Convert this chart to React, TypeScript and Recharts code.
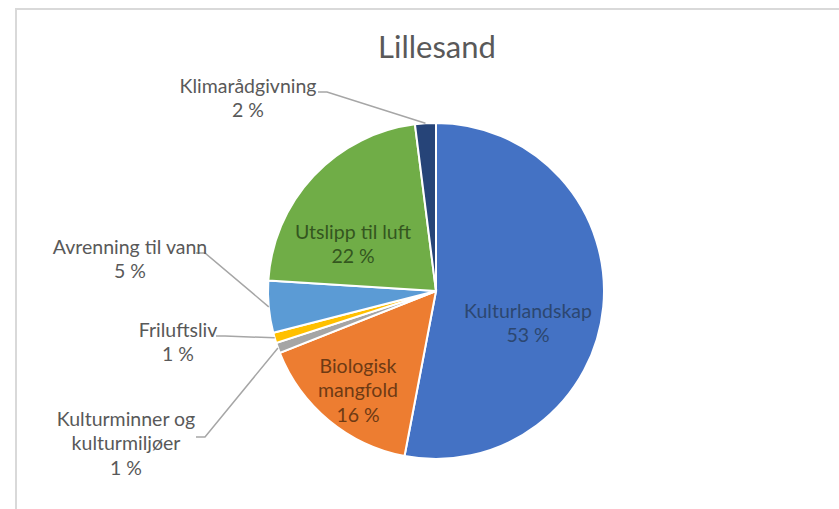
import React from 'react';
import { PieChart, Pie, Cell } from 'recharts';

// andel av tiltak per tema, Lillesand
const categories = [
  'Kulturlandskap',
  'Biologisk mangfold',
  'Kulturminner og kulturmiljøer',
  'Friluftsliv',
  'Avrenning til vann',
  'Utslipp til luft',
  'Klimarådgivning',
];
const shares = [53, 16, 1, 1, 5, 22, 2];
const percentLabels = ['53 %', '16 %', '1 %', '1 %', '5 %', '22 %', '2 %'];

const COLORS = ['#4472C4', '#ED7D31', '#A5A5A5', '#FFC000', '#5B9BD5', '#70AD47', '#264478'];

// how each label is set out: text lines, anchor, and (for outside labels) where the leader line ends
const LABEL_LAYOUT: Record<string, any> = {
  Kulturlandskap: { lines: ['Kulturlandskap'], x: 528, y: 310, fill: '#2c4770' },
  'Biologisk mangfold': { lines: ['Biologisk', 'mangfold'], x: 358, y: 365, fill: '#6e3a14' },
  'Kulturminner og kulturmiljøer': {
    lines: ['Kulturminner og', 'kulturmiljøer'], x: 126, y: 418, fill: '#595959', lineFrom: [196, 437],
  },
  Friluftsliv: { lines: ['Friluftsliv'], x: 178, y: 329, fill: '#595959', lineFrom: [216, 336] },
  'Avrenning til vann': { lines: ['Avrenning til vann'], x: 130, y: 246, fill: '#595959', lineFrom: [196, 253] },
  'Utslipp til luft': { lines: ['Utslipp til luft'], x: 353, y: 231, fill: '#34561f' },
  Klimarådgivning: { lines: ['Klimarådgivning'], x: 248, y: 85, fill: '#595959', lineFrom: [318, 92] },
};

const data = categories.map((name, i) => ({ name, value: shares[i], pct: percentLabels[i] }));

const RADIAN = Math.PI / 180;
const LINE_H = 24.5;

const renderLabel = (props: any) => {
  const { cx, cy, midAngle, outerRadius, index } = props;
  const item = data[index];
  const lay = LABEL_LAYOUT[item.name];
  const rows = [...lay.lines, item.pct];
  let leader = null;
  if (lay.lineFrom) {
    const ex = cx + outerRadius * Math.cos(-midAngle * RADIAN);
    const ey = cy + outerRadius * Math.sin(-midAngle * RADIAN);
    const [lx, ly] = lay.lineFrom;
    leader = (
      <polyline
        points={`${lx},${ly} ${lx + 9},${ly} ${ex},${ey}`}
        fill="none"
        stroke="#a6a6a6"
        strokeWidth={1.5}
      />
    );
  }
  return (
    <g key={`lbl-${index}`}>
      {leader}
      {rows.map((r: string, k: number) => (
        <text
          key={k}
          x={lay.x}
          y={lay.y + k * LINE_H}
          textAnchor="middle"
          dominantBaseline="central"
          fill={lay.fill}
          fontSize={19.5}
          fontFamily="Lato, 'Noto Sans', sans-serif"
        >
          {r}
        </text>
      ))}
    </g>
  );
};

export default function App() {
  return (
    <div style={{ position: 'absolute', left: 0, top: 0, width: 839, height: 509, background: '#ffffff', overflow: 'hidden' }}>
      <div
        style={{
          position: 'absolute', left: 15, top: 8, width: 839, height: 520,
          borderTop: '2px solid #d9d9d9', borderLeft: '2px solid #d9d9d9',
        }}
      />
      <div
        style={{
          position: 'absolute', left: 0, width: 874, top: 27, textAlign: 'center',
          fontFamily: "Lato, 'Noto Sans', sans-serif", fontSize: 31, color: '#595959',
        }}
      >
        Lillesand
      </div>
      <div style={{ position: 'absolute', left: 0, top: 0 }}>
        <PieChart width={839} height={509} margin={{ top: 0, right: 0, bottom: 0, left: 0 }}>
          <Pie
            data={data}
            dataKey="value"
            nameKey="name"
            cx={436}
            cy={291}
            outerRadius={168}
            startAngle={90}
            endAngle={-270}
            stroke="#ffffff"
            strokeWidth={2}
            label={renderLabel}
            labelLine={false}
            isAnimationActive={false}
          >
            {data.map((d, i) => (
              <Cell key={d.name} fill={COLORS[i]} />
            ))}
          </Pie>
        </PieChart>
      </div>
    </div>
  );
}
